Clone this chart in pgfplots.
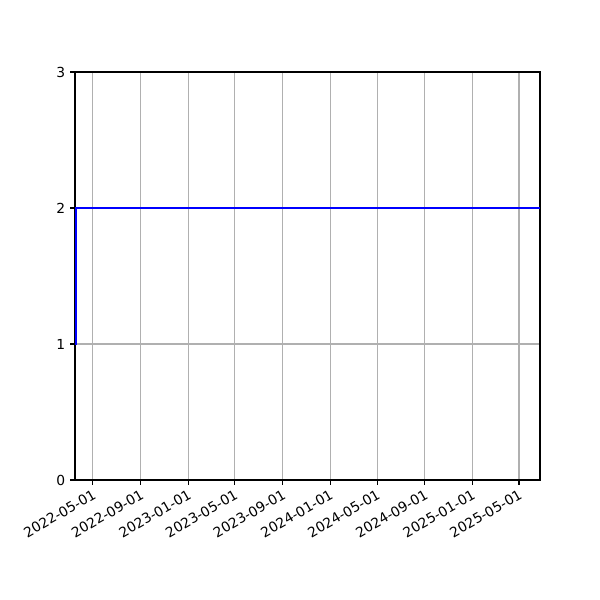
\documentclass[border=0pt]{standalone}
\usepackage{fontspec}
\setmainfont{DejaVu Sans}
\usepackage{pgfplots}
\pgfplotsset{compat=1.18}
\begin{document}
\begin{tikzpicture}
\useasboundingbox (0,0) rectangle (6in,6in);
\begin{axis}[
    at={(0.75in,1.2in)}, anchor=south west,
    scale only axis,
    width=4.65in, height=4.08in,
    xmin=-46, xmax=1150,
    ymin=0, ymax=3,
    xtick={0,123,245,365,488,610,731,854,976,1096},
    xticklabels={2022-05-01,2022-09-01,2023-01-01,2023-05-01,2023-09-01,2024-01-01,2024-05-01,2024-09-01,2025-01-01,2025-05-01},
    ytick={0,1,2,3},
    xtick pos=left, ytick pos=left,
    tick align=outside,
    major tick length=3.5pt,
    tick style={black, line width=0.8pt},
    axis line style={line width=0.8pt},
    grid=major,
    major grid style={color=black!31, line width=0.8pt},
    xticklabel style={rotate=30, anchor=north east, font=\fontsize{10}{12}\selectfont, inner sep=2pt},
    yticklabel style={font=\fontsize{10}{12}\selectfont},
    /pgf/number format/assume math mode=true,
]
\addplot[color=blue, line width=1.5pt, const plot] coordinates {
    (-45,1) (-44,2) (1150,2)
};
\end{axis}
\end{tikzpicture}
\end{document}
